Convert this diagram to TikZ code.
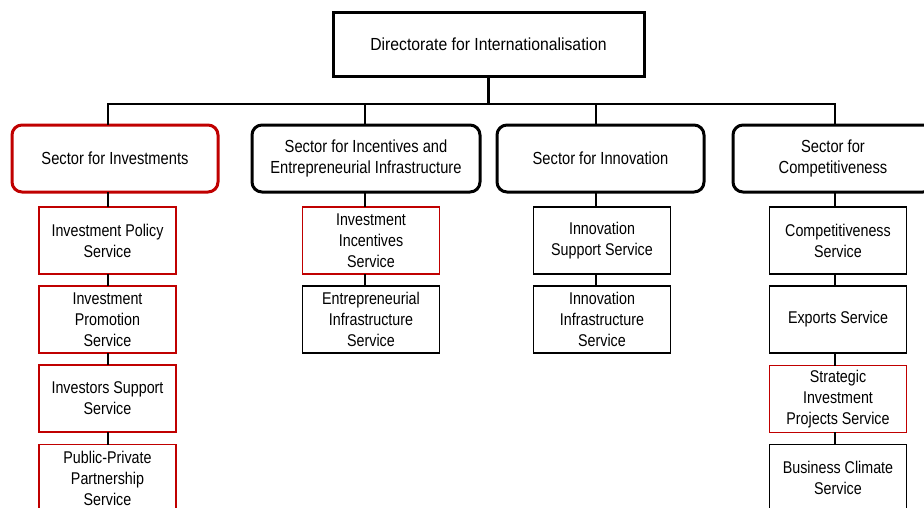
\documentclass[tikz,border=0pt]{standalone}
\usepackage{fontspec}
\setmainfont[FakeStretch=0.84]{Liberation Sans}
\definecolor{orgred}{RGB}{192,0,0}
\begin{document}
\begin{tikzpicture}[x=1pt,y=-1pt,
  head/.style={draw,line width=3pt,minimum width=311pt,minimum height=64pt,font=\fontsize{17.5}{21}\selectfont\addfontfeature{FakeStretch=0.9}},
  sector/.style={draw,line width=3pt,rounded corners=10pt,minimum height=67pt,align=center,font=\fontsize{17.5}{21}\selectfont},
  unit/.style={draw,line width=1.7pt,minimum width=137pt,minimum height=67pt,align=center,font=\fontsize{17}{21}\selectfont},
  link/.style={line width=2.3pt,line cap=rect}]
\clip (0,0) rectangle (924,507);
\fill[white] (0,0) rectangle (924,507);
\coordinate (t1) at (108,104);
\coordinate (t2) at (365,104);
\coordinate (t3) at (596,104);
\coordinate (t4) at (835,104);
\node[head] (dir) at (488.5,44) {Directorate for Internationalisation};
\node[sector,draw=orgred,minimum width=206pt] (sInv) at (115,158.5) {Sector for Investments};
\node[sector,minimum width=228pt] (sInc) at (366,158.5) {Sector for Incentives and\\Entrepreneurial Infrastructure};
\node[sector,minimum width=207pt] (sInn) at (600.5,158.5) {Sector for Innovation};
\node[sector,minimum width=200pt] (sCom) at (833,158.5) {Sector for\\Competitiveness};
\node[unit,draw=orgred] (ip) at (107.5,240.5) {Investment Policy\\Service};
\node[unit,draw=orgred] (pr) at (107.5,319.5) {Investment\\Promotion\\Service};
\node[unit,draw=orgred] (is) at (107.5,398.5) {Investors Support\\Service};
\node[unit,draw=orgred] (pp) at (107.5,478) {Public-Private\\Partnership\\Service};
\node[unit,draw=orgred] (ii) at (371,240.5) {Investment\\Incentives\\Service};
\node[unit] (ei) at (371,319.5) {Entrepreneurial\\Infrastructure\\Service};
\node[unit] (ns) at (602,240.5) {Innovation\\Support Service};
\node[unit] (ni) at (602,319.5) {Innovation\\Infrastructure\\Service};
\node[unit] (cs) at (838,240.5) {Competitiveness\\Service};
\node[unit] (ex) at (838,319.5) {Exports Service};
\node[unit,draw=orgred] (sp) at (838,399) {Strategic\\Investment\\Projects Service};
\node[unit] (bc) at (838,478) {Business Climate\\Service};
\draw[link] (dir.south) -- (dir.south |- t1);
\draw[link] (t1) -- (t4);
\draw[link] (t1) -- (t1 |- sInv.north);
\draw[link] (t2) -- (t2 |- sInc.north);
\draw[link] (t3) -- (t3 |- sInn.north);
\draw[link] (t4) -- (t4 |- sCom.north);
\draw[link] (t1 |- sInv.south) -- (t1 |- ip.north);
\draw[link] (t1 |- ip.south) -- (t1 |- pr.north);
\draw[link] (t1 |- pr.south) -- (t1 |- is.north);
\draw[link] (t1 |- is.south) -- (t1 |- pp.north);
\draw[link] (t2 |- sInc.south) -- (t2 |- ii.north);
\draw[link] (t2 |- ii.south) -- (t2 |- ei.north);
\draw[link] (t3 |- sInn.south) -- (t3 |- ns.north);
\draw[link] (t3 |- ns.south) -- (t3 |- ni.north);
\draw[link] (t4 |- sCom.south) -- (t4 |- cs.north);
\draw[link] (t4 |- cs.south) -- (t4 |- ex.north);
\draw[link] (t4 |- ex.south) -- (t4 |- sp.north);
\draw[link] (t4 |- sp.south) -- (t4 |- bc.north);
\end{tikzpicture}
\end{document}
